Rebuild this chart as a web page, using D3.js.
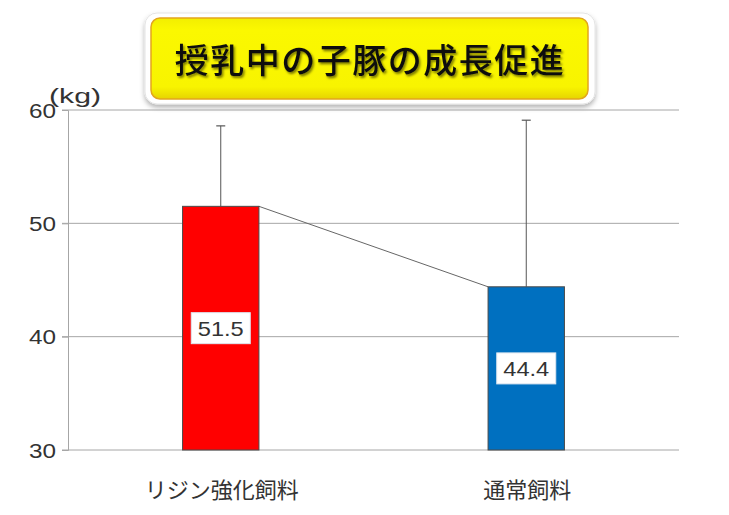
<!DOCTYPE html>
<html lang="ja">
<head>
<meta charset="UTF-8">
<title>授乳中の子豚の成長促進</title>
<script src="https://cdn.jsdelivr.net/npm/d3@7"></script>
<style>
  body { margin: 0; background: #fff; }
  .num { font-family: "Liberation Sans", Arial, sans-serif; fill: #333; }
  .jp { font-family: "Noto Sans CJK JP", sans-serif; fill: #333; }
</style>
</head>
<body>
<script>
// data
const categories = ["リジン強化飼料", "通常飼料"];
const means = [51.5, 44.4];
const sds = [7.1, 14.7];
const colors = ["#ff0000", "#0070c0"];
const yTicks = [30, 40, 50, 60];
const title = "授乳中の子豚の成長促進";
const unit = "(kg)";

const W = 729, H = 515;
const margin = {top: 110, right: 50, bottom: 65, left: 68};

const svg = d3.select("body").append("svg")
  .attr("width", W).attr("height", H);

const defs = svg.append("defs");
defs.append("filter").attr("id", "boxShadow")
  .attr("x", "-10%").attr("y", "-20%").attr("width", "120%").attr("height", "150%")
  .append("feDropShadow")
  .attr("dx", 0).attr("dy", 3).attr("stdDeviation", 2.5)
  .attr("flood-color", "#000").attr("flood-opacity", 0.3);
defs.append("filter").attr("id", "textShadow")
  .attr("x", "-10%").attr("y", "-20%").attr("width", "120%").attr("height", "150%")
  .append("feDropShadow")
  .attr("dx", 1.5).attr("dy", 2).attr("stdDeviation", 1.2)
  .attr("flood-color", "#000").attr("flood-opacity", 0.5);

let grad = defs.append("linearGradient").attr("id", "yel")
  .attr("x1", 0).attr("y1", 0).attr("x2", 0).attr("y2", 1);
grad.append("stop").attr("offset", "0%").attr("stop-color", "#f2ee00");
grad.append("stop").attr("offset", "15%").attr("stop-color", "#fbf800");
grad.append("stop").attr("offset", "85%").attr("stop-color", "#f8f400");
grad.append("stop").attr("offset", "100%").attr("stop-color", "#e6d400");

// title box
let tb = svg.append("g");
tb.append("rect")
  .attr("x", 145).attr("y", 13).attr("width", 450).attr("height", 91)
  .attr("rx", 12)
  .attr("fill", "#fff").attr("stroke", "#e4e4e4")
  .attr("filter", "url(#boxShadow)");
tb.append("rect")
  .attr("x", 151).attr("y", 18).attr("width", 437).attr("height", 81)
  .attr("rx", 9)
  .attr("fill", "url(#yel)").attr("stroke", "#e3a51c").attr("stroke-width", 1.5);
tb.append("text")
  .attr("class", "jp")
  .attr("x", 370).attr("y", 73)
  .attr("text-anchor", "middle")
  .attr("font-size", 34).attr("font-weight", 500)
  .attr("letter-spacing", 1.5)
  .style("fill", "#111")
  .attr("filter", "url(#textShadow)")
  .text(title);

const x = d3.scaleBand()
  .domain(categories)
  .range([margin.left, W - margin.right])
  .paddingInner(0.75).paddingOuter(0.375);

const y = d3.scaleLinear()
  .domain([30, 60])
  .range([H - margin.bottom, margin.top]);

// gridlines
svg.append("g").selectAll("line")
  .data(yTicks).join("line")
  .attr("x1", margin.left - 6).attr("x2", W - margin.right)
  .attr("y1", d => y(d)).attr("y2", d => y(d))
  .attr("stroke", "#a6a6a6").attr("stroke-width", 1);

// y axis
const yAxis = svg.append("g")
  .attr("transform", `translate(${margin.left},0)`)
  .call(d3.axisLeft(y).tickValues(yTicks).tickSize(6).tickPadding(6));
yAxis.select(".domain").attr("stroke", "#a6a6a6");
yAxis.selectAll(".tick line").attr("stroke", "#a6a6a6");
yAxis.selectAll(".tick text")
  .attr("class", "num")
  .attr("font-size", 20)
  .attr("dy", "0.36em")
  .attr("textLength", 27).attr("lengthAdjust", "spacingAndGlyphs")
  .attr("fill", "#333");

svg.append("text")
  .attr("class", "num")
  .attr("x", 49).attr("y", 103)
  .attr("font-size", 20)
  .attr("textLength", 52).attr("lengthAdjust", "spacingAndGlyphs")
  .text(unit);

const rows = categories.map((c, i) => ({c, m: means[i], sd: sds[i], col: colors[i]}));

// connector line between bar tops
svg.append("line")
  .attr("x1", x(categories[0]) + x.bandwidth()).attr("y1", y(means[0]))
  .attr("x2", x(categories[1])).attr("y2", y(means[1]))
  .attr("stroke", "#666").attr("stroke-width", 1);

// error bars (upper only)
const eb = svg.append("g").selectAll("g").data(rows).join("g");
eb.append("line")
  .attr("x1", d => x(d.c) + x.bandwidth() / 2).attr("x2", d => x(d.c) + x.bandwidth() / 2)
  .attr("y1", d => y(d.m)).attr("y2", d => y(d.m + d.sd))
  .attr("stroke", "#555").attr("stroke-width", 1);
eb.append("line")
  .attr("x1", d => x(d.c) + x.bandwidth() / 2 - 4.5).attr("x2", d => x(d.c) + x.bandwidth() / 2 + 4.5)
  .attr("y1", d => y(d.m + d.sd)).attr("y2", d => y(d.m + d.sd))
  .attr("stroke", "#555").attr("stroke-width", 1.2);

// bars
svg.append("g").selectAll("rect").data(rows).join("rect")
  .attr("x", d => x(d.c)).attr("width", x.bandwidth())
  .attr("y", d => y(d.m)).attr("height", d => y(30) - y(d.m))
  .attr("fill", d => d.col)
  .attr("stroke", "#4a4a4a").attr("stroke-width", 1);

// value labels
const lab = svg.append("g").selectAll("g").data(rows).join("g")
  .attr("transform", d => `translate(${x(d.c) + x.bandwidth() / 2},${(y(d.m) + y(30)) / 2})`);
lab.append("rect")
  .attr("x", -29.5).attr("y", -15.5).attr("width", 59).attr("height", 31)
  .attr("fill", "#fff").attr("stroke", "#dde6f0").attr("stroke-width", 1);
lab.append("text")
  .attr("class", "num")
  .attr("text-anchor", "middle").attr("y", 8)
  .attr("font-size", 21)
  .attr("textLength", 46).attr("lengthAdjust", "spacingAndGlyphs")
  .text(d => d.m.toFixed(1));

// category labels
svg.append("g").selectAll("text").data(categories).join("text")
  .attr("class", "jp")
  .attr("x", d => x(d) + x.bandwidth() / 2 + 1)
  .attr("y", 498)
  .attr("text-anchor", "middle")
  .attr("font-size", 22)
  .text(d => d);
</script>
</body>
</html>
